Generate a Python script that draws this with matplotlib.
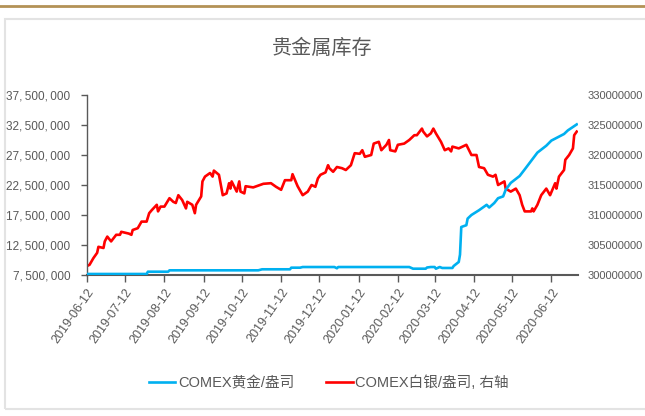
import pandas as pd
import numpy as np
import matplotlib
matplotlib.use("Agg")
import matplotlib.pyplot as plt
import matplotlib.dates as mdates
from matplotlib.ticker import FuncFormatter
from matplotlib.patches import Rectangle
from matplotlib.lines import Line2D

plt.rcParams['font.family'] = ['Liberation Sans', 'Noto Sans CJK SC', 'DejaVu Sans']

# COMEX gold stocks (million oz), left axis
gold_dates = ["2019-06-12", "2019-07-29", "2019-07-30", "2019-08-15", "2019-08-16", "2019-10-25",
              "2019-10-28", "2019-11-19", "2019-11-20", "2019-11-27", "2019-11-29", "2019-12-24",
              "2019-12-26", "2019-12-27", "2020-02-21", "2020-02-24", "2020-03-05", "2020-03-06",
              "2020-03-09", "2020-03-12", "2020-03-13", "2020-03-16", "2020-03-18", "2020-03-26",
              "2020-03-27", "2020-03-31", "2020-04-01", "2020-04-02", "2020-04-06", "2020-04-07",
              "2020-04-10", "2020-04-16", "2020-04-22", "2020-04-24", "2020-04-28", "2020-05-01",
              "2020-05-05", "2020-05-07", "2020-05-11", "2020-05-18", "2020-05-22", "2020-05-27",
              "2020-06-01", "2020-06-08", "2020-06-12", "2020-06-22", "2020-06-25", "2020-07-02"]
gold_vals = [7.67, 7.67, 8.05, 8.05, 8.28, 8.28,
             8.45, 8.45, 8.72, 8.72, 8.83, 8.83,
             8.62, 8.83, 8.83, 8.55, 8.55, 8.75,
             8.83, 8.83, 8.55, 8.83, 8.67, 8.67,
             9.0, 9.67, 10.9, 15.5, 15.8, 16.9,
             17.5, 18.3, 19.2, 18.75, 19.5, 20.3,
             20.6, 21.7, 22.85, 24.0, 25.1, 26.5,
             27.9, 29.05, 29.9, 31.0, 31.6, 32.6]

# COMEX silver stocks (million oz), right axis
silver_dates = ["2019-06-12", "2019-06-14", "2019-06-17", "2019-06-20", "2019-06-21", "2019-06-25",
                "2019-06-26", "2019-06-28", "2019-07-01", "2019-07-05", "2019-07-08", "2019-07-09",
                "2019-07-15", "2019-07-17", "2019-07-18", "2019-07-22", "2019-07-25", "2019-07-29",
                "2019-07-31", "2019-08-02", "2019-08-06", "2019-08-07", "2019-08-09", "2019-08-12",
                "2019-08-16", "2019-08-19", "2019-08-21", "2019-08-23", "2019-08-26", "2019-08-29",
                "2019-08-30", "2019-09-03", "2019-09-05", "2019-09-06", "2019-09-10", "2019-09-11",
                "2019-09-13", "2019-09-17", "2019-09-19", "2019-09-20", "2019-09-24", "2019-09-27",
                "2019-09-30", "2019-10-02", "2019-10-03", "2019-10-04", "2019-10-08", "2019-10-10",
                "2019-10-11", "2019-10-14", "2019-10-15", "2019-10-21", "2019-10-29", "2019-11-04",
                "2019-11-08", "2019-11-12", "2019-11-15", "2019-11-20", "2019-11-21", "2019-11-25",
                "2019-11-29", "2019-12-03", "2019-12-06", "2019-12-09", "2019-12-11", "2019-12-13",
                "2019-12-17", "2019-12-19", "2019-12-20", "2019-12-23", "2019-12-26", "2019-12-30",
                "2020-01-02", "2020-01-06", "2020-01-09", "2020-01-13", "2020-01-15", "2020-01-17",
                "2020-01-22", "2020-01-24", "2020-01-28", "2020-01-30", "2020-02-03", "2020-02-05",
                "2020-02-06", "2020-02-10", "2020-02-12", "2020-02-17", "2020-02-21", "2020-02-25",
                "2020-02-27", "2020-03-02", "2020-03-03", "2020-03-06", "2020-03-09", "2020-03-11",
                "2020-03-13", "2020-03-17", "2020-03-20", "2020-03-23", "2020-03-25", "2020-03-26",
                "2020-03-31", "2020-04-03", "2020-04-06", "2020-04-10", "2020-04-14", "2020-04-16",
                "2020-04-20", "2020-04-23", "2020-04-27", "2020-04-29", "2020-05-01", "2020-05-06",
                "2020-05-07", "2020-05-11", "2020-05-15", "2020-05-18", "2020-05-20", "2020-05-22",
                "2020-05-27", "2020-05-28", "2020-05-29", "2020-06-01", "2020-06-04", "2020-06-08",
                "2020-06-11", "2020-06-15", "2020-06-16", "2020-06-18", "2020-06-22", "2020-06-23",
                "2020-06-26", "2020-06-29", "2020-06-30", "2020-07-02"]
silver_vals = [301.5, 301.7, 302.8, 303.7, 304.7, 304.5,
               305.6, 306.4, 305.6, 306.7, 306.7, 307.2,
               306.9, 306.7, 307.5, 307.8, 308.9, 308.9,
               310.3, 310.8, 311.7, 310.6, 311.4, 311.4,
               312.8, 312.2, 312.0, 313.3, 312.5, 311.1,
               312.2, 311.7, 310.3, 311.7, 313.1, 315.6,
               316.4, 317.0, 316.4, 317.4, 316.7, 313.3,
               313.6, 315.3, 314.4, 315.6, 313.9, 315.6,
               313.9, 313.6, 314.8, 314.6, 315.2, 315.3,
               314.7, 314.2, 315.8, 315.8, 316.8, 314.8,
               313.3, 313.9, 315.0, 314.7, 316.1, 316.7,
               317.1, 318.3, 317.8, 317.2, 318.0, 317.8,
               317.5, 318.3, 320.3, 320.2, 320.8, 319.7,
               320.0, 321.9, 322.2, 320.8, 321.7, 322.5,
               320.8, 320.6, 321.7, 321.9, 322.5, 323.3,
               323.3, 324.4, 323.9, 323.1, 323.6, 324.4,
               323.6, 322.2, 320.8, 321.1, 320.6, 321.4,
               321.1, 321.4, 321.7, 320.0, 320.0, 318.0,
               317.8, 316.7, 316.4, 316.7, 315.0, 315.6,
               314.4, 313.9, 314.4, 313.3, 311.7, 310.6,
               310.6, 311.1, 310.6, 311.7, 313.3, 314.4,
               313.3, 315.3, 314.4, 316.4, 317.5, 319.2,
               320.0, 321.1, 323.3, 323.9]

tick_dates = ["2019-06-12", "2019-07-12", "2019-08-12", "2019-09-12", "2019-10-12", "2019-11-12",
              "2019-12-12", "2020-01-12", "2020-02-12", "2020-03-12", "2020-04-12", "2020-05-12",
              "2020-06-12"]
left_ticks = [7.5e6, 12.5e6, 17.5e6, 22.5e6, 27.5e6, 32.5e6, 37.5e6]
right_ticks = [300e6, 305e6, 310e6, 315e6, 320e6, 325e6, 330e6]

gold_x = pd.to_datetime(gold_dates)
silver_x = pd.to_datetime(silver_dates)
gold_y = np.array(gold_vals) * 1e6
silver_y = np.array(silver_vals) * 1e6

GRAY = "#595959"
BLUE = "#00B0F0"
RED = "#FF0000"

fig = plt.figure(figsize=(6.45, 4.16), dpi=100)
ax = fig.add_axes((87 / 645, 1 - 275 / 416, (578 - 87) / 645, 180 / 416))
ax2 = ax.twinx()

# outer frame and top rule
fig.add_artist(Rectangle((5 / 645, 1 - 409 / 416), 1.0, (409 - 19) / 416, transform=fig.transFigure,
                         fill=False, edgecolor="#e3e3e3", linewidth=1.5, zorder=0))
fig.add_artist(Line2D([0, 1], [1 - 5.7 / 416, 1 - 5.7 / 416], transform=fig.transFigure,
                      color="#b39256", linewidth=2))

l1, = ax.plot(gold_x, gold_y, color=BLUE, linewidth=1.9, label="COMEX黄金/盎司", zorder=3)
l2, = ax2.plot(silver_x, silver_y, color=RED, linewidth=1.9, label="COMEX白银/盎司, 右轴")

ax.set_zorder(ax2.get_zorder() + 1)
ax.patch.set_visible(False)

ax.set_xlim(pd.Timestamp("2019-06-12"), pd.Timestamp("2020-07-03"))
ax.set_ylim(7.5e6, 37.5e6)
ax2.set_ylim(300e6, 330e6)

ax.set_yticks(left_ticks)
ax.yaxis.set_major_formatter(FuncFormatter(lambda v, p: f"{int(v):,}".replace(",", ",\u2009")))
ax2.set_yticks(right_ticks)
ax2.yaxis.set_major_formatter(FuncFormatter(lambda v, p: f"{int(v)}"))

ax.set_xticks(pd.to_datetime(tick_dates))
ax.xaxis.set_major_formatter(mdates.DateFormatter("%Y-%m-%d"))
for lbl in ax.get_xticklabels():
    lbl.set_rotation(55)
    lbl.set_ha("right")
    lbl.set_rotation_mode("anchor")

for a in (ax, ax2):
    for s in ("top", "right"):
        a.spines[s].set_visible(False)
ax2.spines["left"].set_visible(False)
ax2.spines["bottom"].set_visible(False)
ax.spines["left"].set_color(GRAY)
ax.spines["bottom"].set_color(GRAY)
ax.spines["left"].set_linewidth(1.0)
ax.spines["bottom"].set_linewidth(1.5)

ax.tick_params(axis="y", colors=GRAY, labelsize=8.5, length=4, width=1, pad=8)
ax.tick_params(axis="x", colors=GRAY, labelsize=9, length=5, width=1, pad=3)
ax2.tick_params(axis="y", colors=GRAY, labelsize=8, length=0, pad=7)

fig.text(0.5, 1 - 48 / 416, "贵金属库存", ha="center", va="center", fontsize=14.5,
         color=GRAY, family=["Noto Sans CJK SC", "DejaVu Sans"])

fig.legend([l1, l2], [l1.get_label(), l2.get_label()], loc="center", ncol=2,
           bbox_to_anchor=(0.51, 1 - 383 / 416), frameon=False, handlelength=1.8,
           columnspacing=2.2, handletextpad=0.2, labelcolor=GRAY,
           prop={"family": ["Liberation Sans", "Noto Sans CJK SC", "DejaVu Sans"], "size": 10.5})

fig.savefig("out.png", dpi=100)
